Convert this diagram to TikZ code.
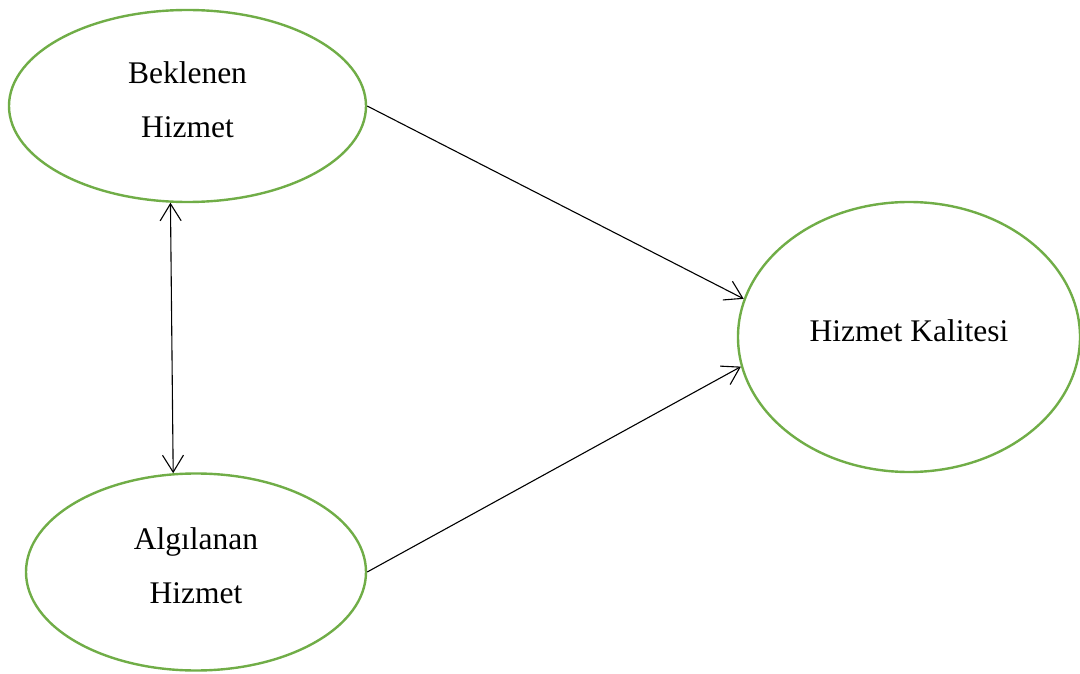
\documentclass[tikz,border=0pt]{standalone}
\usepackage{fontspec}
\setmainfont{Liberation Serif}
\usepackage{tikz}
\definecolor{mygreen}{RGB}{112,173,71}
\usetikzlibrary{shapes.geometric,arrows.meta,positioning}
\tikzstyle{construct}=[draw=mygreen,line width=2.4pt,ellipse,inner sep=0pt,align=center,text depth=12pt,font=\fontsize{31.5}{54}\selectfont]
\tikzstyle{path}=[line width=1.1pt,-{Straight Barb[length=17pt,width=21pt]}]
\begin{document}
\begin{tikzpicture}[x=1pt,y=1pt]
\useasboundingbox (0,0) rectangle (1080,673);
\node [construct, minimum width=357pt, minimum height=192pt] (bh) at (187.5,567) {Beklenen\\Hizmet};
\node [construct, minimum width=340pt, minimum height=197pt] (ah) at (196,101) {Algılanan\\Hizmet};
\node [construct, minimum width=342pt, minimum height=270pt] (hk) at (909,336) {Hizmet Kalitesi};
\draw [path] (bh.east) -- (hk.167);
\draw [path] (ah.east) -- (hk.190);
\draw [path, {Straight Barb[length=17pt,width=21pt]}-{Straight Barb[length=17pt,width=21pt]}] (bh.260) -- (ah.103);
\end{tikzpicture}
\end{document}
